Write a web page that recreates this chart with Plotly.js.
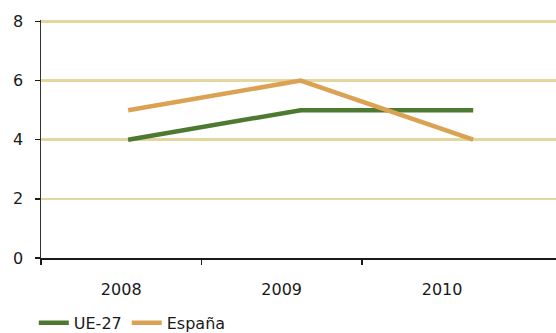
<!DOCTYPE html>
<html><head><meta charset="utf-8">
<script src="https://cdn.plot.ly/plotly-3.0.1.min.js"></script>
<style>html,body{margin:0;padding:0;background:#fff}#c{width:556px;height:333px}</style>
</head><body><div id="c"></div>
<script>
const years = ['2008','2009','2010'];
const xIdx = [0,1,2];
const ue27 = [4,5,5];
const espana = [5,6,4];
const yTicks = [0,2,4,6,8];
const boundaries = [-0.5,0.5,1.5];

const font = {family:'DejaVu Sans, Liberation Sans, sans-serif', size:16, color:'#1a1a1a'};
const traces = [
  {x:xIdx, y:ue27, name:'UE-27', mode:'lines', line:{color:'#4d7a30', width:4.5}, xaxis:'x', yaxis:'y'},
  {x:xIdx, y:espana, name:'España', mode:'lines', line:{color:'#dca253', width:4.5}, xaxis:'x', yaxis:'y'},
  {x:boundaries, y:[null,null,null], showlegend:false, xaxis:'x2', yaxis:'y', hoverinfo:'skip'},
  {x:xIdx, y:[null,null,null], showlegend:false, xaxis:'x3', yaxis:'y', hoverinfo:'skip'}
];
const layout = {
  width:556, height:333,
  margin:{l:41, r:0, t:20, b:75, autoexpand:false},
  paper_bgcolor:'#fff', plot_bgcolor:'#fff',
  font:font,
  showlegend:true,
  legend:{orientation:'h', x:-0.014, xanchor:'left', y:-0.273, yanchor:'middle',
    font:{family:'DejaVu Sans, Liberation Sans, sans-serif', size:16, color:'#1a1a1a'}, tracegroupgap:0},
  xaxis:{range:[-0.505,2.48], showticklabels:false, ticks:'', showgrid:false, zeroline:false, showline:false},
  xaxis2:{overlaying:'x', side:'bottom', range:[-0.5,2.71], tickmode:'array', tickvals:boundaries, ticktext:['','',''],
    showgrid:false, zeroline:false, showline:true, linecolor:'#1a1a1a', linewidth:2,
    ticks:'outside', ticklen:5, tickwidth:1.5, tickcolor:'#1a1a1a'},
  xaxis3:{overlaying:'x', side:'bottom', range:[-0.5,2.71], tickmode:'array', tickvals:xIdx, ticktext:years,
    showgrid:false, zeroline:false, showline:false, ticks:'', tickfont:font, ticklabelstandoff:20},
  yaxis:{range:[0,8.05], tickmode:'array', tickvals:yTicks, ticks:'outside', ticklen:5, tickwidth:1.5, tickcolor:'#1a1a1a',
    showline:true, linecolor:'#333', linewidth:1.5, gridcolor:'#e4d69f', gridwidth:2.5, zeroline:false, tickfont:font, ticklabelstandoff:8}
};
Plotly.newPlot('c', traces, layout, {staticPlot:true});
</script></body></html>
